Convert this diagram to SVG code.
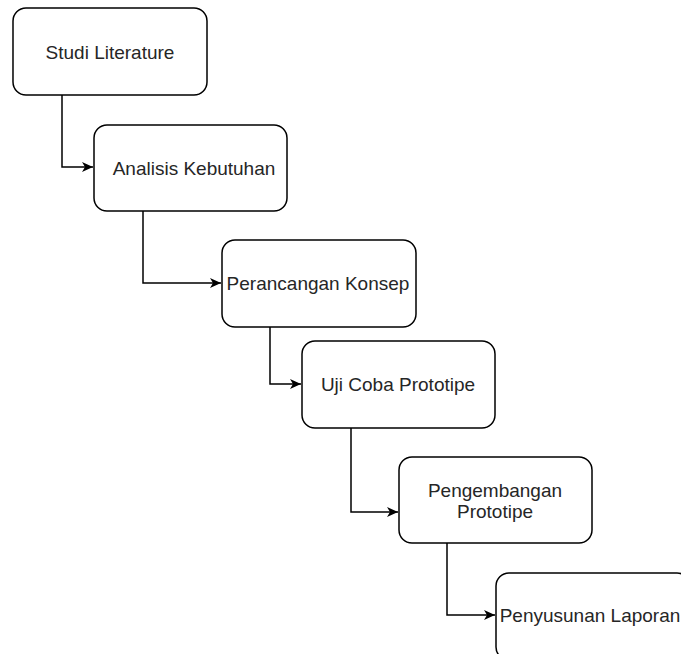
<svg xmlns="http://www.w3.org/2000/svg" width="681" height="654" viewBox="0 0 681 654">
<defs>
<marker id="arr" markerWidth="14" markerHeight="14" refX="11" refY="6" orient="auto" markerUnits="userSpaceOnUse">
<path d="M0,1 L11,6 L0,11 L3,6 Z" fill="#000"/>
</marker>
<style>
.box{fill:#fff;stroke:#000;stroke-width:1.5}
.lbl{font-family:"Liberation Sans",Arial,sans-serif;font-size:19px;fill:#262626;text-anchor:middle;dominant-baseline:central}
.edge{fill:none;stroke:#000;stroke-width:1.5}
</style>
</defs>
<rect width="681" height="654" fill="#fff"/>
<g id="connectors">
<path class="edge" d="M62,95 V167 H93" marker-end="url(#arr)"/>
<path class="edge" d="M143,211 V283 H221" marker-end="url(#arr)"/>
<path class="edge" d="M270,327 V384 H301" marker-end="url(#arr)"/>
<path class="edge" d="M351,428 V512 H398" marker-end="url(#arr)"/>
<path class="edge" d="M447,543 V615 H495" marker-end="url(#arr)"/>
</g>
<g id="n1"><rect class="box" x="13" y="8" width="194" height="87" rx="13"/><text class="lbl" x="110" y="52">Studi Literature</text></g>
<g id="n2"><rect class="box" x="94" y="125" width="193" height="86" rx="13"/><text class="lbl" x="194" y="168">Analisis Kebutuhan</text></g>
<g id="n3"><rect class="box" x="222" y="240" width="194" height="87" rx="13"/><text class="lbl" x="318" y="283">Perancangan Konsep</text></g>
<g id="n4"><rect class="box" x="302" y="341" width="193" height="87" rx="13"/><text class="lbl" x="398" y="384">Uji Coba Prototipe</text></g>
<g id="n5"><rect class="box" x="399" y="457" width="193" height="86" rx="13"/><text class="lbl" x="495" y="490">Pengembangan</text><text class="lbl" x="495" y="511">Prototipe</text></g>
<g id="n6"><rect class="box" x="496" y="573" width="194" height="87" rx="13"/><text class="lbl" x="590" y="615">Penyusunan Laporan</text></g>
</svg>
